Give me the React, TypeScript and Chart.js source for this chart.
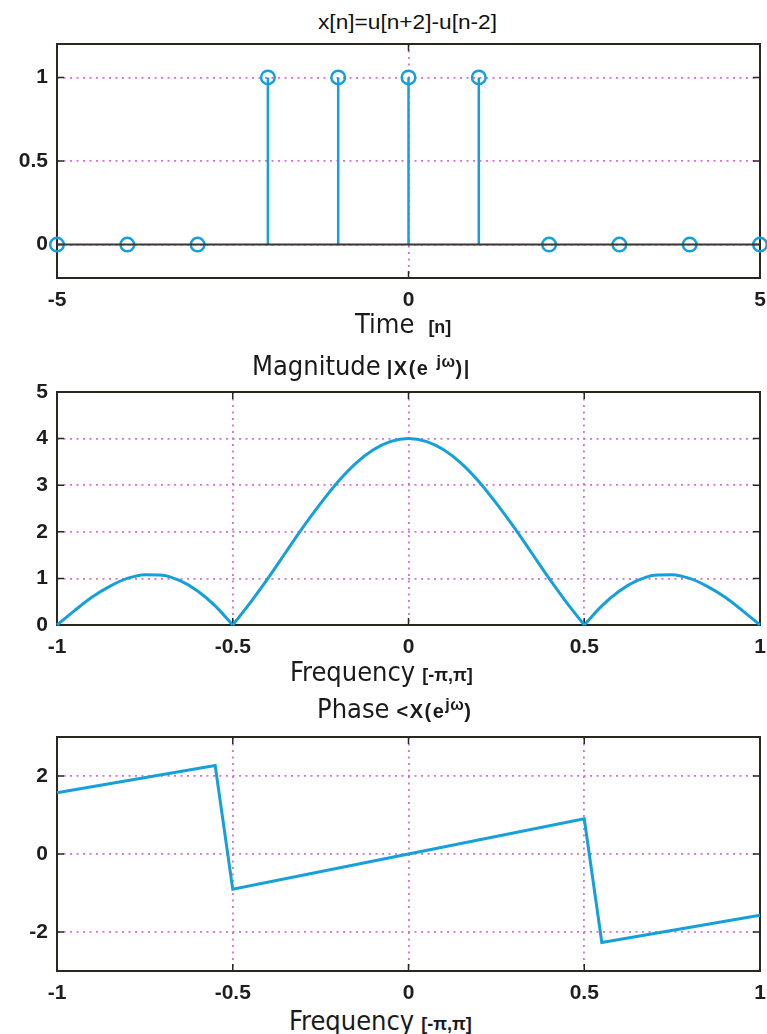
import React, { useEffect, useRef } from "react";
import { Chart, registerables } from "chart.js";

Chart.register(...registerables);

// ---------- data ----------
const stemN = [-5, -4, -3, -2, -1, 0, 1, 2, 3, 4, 5];
const stemValues = [0, 0, 0, 1, 1, 1, 1, 0, 0, 0, 0];
const stemXTicks = [-5, 0, 5];
const stemYTicks = [0, 0.5, 1];

const freqGrid = [
  -1, -0.95, -0.9, -0.85, -0.8, -0.75, -0.7, -0.65, -0.6, -0.55, -0.5,
  -0.45, -0.4, -0.35, -0.3, -0.25, -0.2, -0.15, -0.1, -0.05, 0,
  0.05, 0.1, 0.15, 0.2, 0.25, 0.3, 0.35, 0.4, 0.45, 0.5,
  0.55, 0.6, 0.65, 0.7, 0.75, 0.8, 0.85, 0.9, 0.95, 1,
];
const magValues = [
  0, 0.31, 0.6, 0.83, 1.0, 1.08, 1.07, 0.95, 0.73, 0.41, 0,
  0.48, 1.0, 1.55, 2.1, 2.61, 3.08, 3.47, 3.76, 3.94, 4.0,
  3.94, 3.76, 3.47, 3.08, 2.61, 2.1, 1.55, 1.0, 0.48, 0,
  0.41, 0.73, 0.95, 1.07, 1.08, 1.0, 0.83, 0.6, 0.31, 0,
];
// indices in freqGrid where the magnitude lobes meet (zeros)
const magLobeBreaks = [0, 10, 30, 40];
const freqTicks = [-1, -0.5, 0, 0.5, 1];
const magYTicks = [0, 1, 2, 3, 4, 5];

const phaseFreq = [-1, -0.55, -0.5, 0, 0.5, 0.55, 1];
const phaseValues = [1.57, 2.27, -0.9, 0, 0.9, -2.27, -1.57];
const phaseYTicks = [-2, 0, 2];

// ---------- styles ----------
const BLUE = "#159fdb";
const GRID = "rgba(208,96,208,0.9)";
const BORDER = "#2a2620";
const TICK_FONT = { family: '"Liberation Sans", Arial, sans-serif', weight: "bold" as const, size: 21 };
const LABEL_FONT = '"DejaVu Sans Condensed", "DejaVu Sans", sans-serif';
const SMALL_FONT = '"Liberation Sans", Arial, sans-serif';

const boxPlugin = {
  id: "matlabBox",
  beforeDatasetsDraw(chart: any) {
    const { ctx, chartArea: a, scales } = chart;
    ctx.save();
    ctx.strokeStyle = BORDER;
    ctx.lineWidth = 1.5;
    const L = 7;
    ctx.beginPath();
    scales.x.ticks.forEach((t: any) => {
      const px = scales.x.getPixelForValue(t.value);
      ctx.moveTo(px, a.bottom);
      ctx.lineTo(px, a.bottom - L);
      ctx.moveTo(px, a.top);
      ctx.lineTo(px, a.top + L);
    });
    scales.y.ticks.forEach((t: any) => {
      const py = scales.y.getPixelForValue(t.value);
      ctx.moveTo(a.left, py);
      ctx.lineTo(a.left + L, py);
      ctx.moveTo(a.right, py);
      ctx.lineTo(a.right - L, py);
    });
    ctx.stroke();
    ctx.lineWidth = 2;
    ctx.strokeRect(a.left, a.top, a.right - a.left, a.bottom - a.top);
    ctx.restore();
  },
};

function axis(min: number, max: number, ticks: number[], isX: boolean) {
  return {
    type: "linear" as const,
    min,
    max,
    afterBuildTicks: (ax: any) => {
      ax.ticks = ticks.map((v) => ({ value: v }));
    },
    afterFit: (ax: any) => {
      if (isX) {
        ax.height = 34;
        ax.paddingLeft = 0;
        ax.paddingRight = 0;
      } else {
        ax.width = 57;
        ax.paddingTop = 0;
        ax.paddingBottom = 0;
      }
    },
    grid: { color: GRID, lineWidth: 1.8, drawTicks: false },
    border: { display: false, dash: [2, 4.5] },
    ticks: {
      padding: isX ? 10 : 9,
      font: TICK_FONT,
      color: "#1e1e1e",
      autoSkip: false,
      maxRotation: 0,
      callback: (v: any) => String(v),
    },
  };
}

function baseOptions(padTop: number, xMin: number, xMax: number, xT: number[], yMin: number, yMax: number, yT: number[]) {
  return {
    animation: false as const,
    responsive: false,
    layout: { autoPadding: false, padding: { top: padTop, right: 7, left: 0, bottom: 0 } },
    plugins: { legend: { display: false }, tooltip: { enabled: false }, title: { display: false } },
    scales: { x: axis(xMin, xMax, xT, true), y: axis(yMin, yMax, yT, false) },
  };
}

function stemConfig() {
  const stems: any[] = [];
  stemN.forEach((n, i) => {
    stems.push({ x: n, y: 0 }, { x: n, y: stemValues[i] }, { x: n, y: null });
  });
  return {
    type: "scatter" as const,
    data: {
      datasets: [
        {
          data: [{ x: stemN[0], y: 0 }, { x: stemN[stemN.length - 1], y: 0 }],
          showLine: true,
          borderColor: "#3a3630",
          borderWidth: 2,
          pointRadius: 0,
        },
        {
          data: stems,
          showLine: true,
          spanGaps: false,
          borderColor: BLUE,
          borderWidth: 2.5,
          pointRadius: 0,
        },
        {
          data: stemN.map((n, i) => ({ x: n, y: stemValues[i] })),
          showLine: false,
          pointRadius: 6.8,
          pointBorderWidth: 2.5,
          pointBorderColor: BLUE,
          pointBackgroundColor: "rgba(0,0,0,0)",
          clip: false,
        },
      ],
    },
    options: baseOptions(4, -5, 5, stemXTicks, -0.2, 1.2, stemYTicks),
    plugins: [boxPlugin],
  };
}

function magConfig() {
  const datasets: any[] = [];
  for (let k = 0; k < magLobeBreaks.length - 1; k++) {
    const s = magLobeBreaks[k];
    const e = magLobeBreaks[k + 1];
    datasets.push({
      data: freqGrid.slice(s, e + 1).map((x, i) => ({ x, y: magValues[s + i] })),
      showLine: true,
      cubicInterpolationMode: "monotone",
      borderColor: BLUE,
      borderWidth: 3,
      pointRadius: 0,
      clip: 4,
    });
  }
  return {
    type: "scatter" as const,
    data: { datasets },
    options: baseOptions(14, -1, 1, freqTicks, 0, 5, magYTicks),
    plugins: [boxPlugin],
  };
}

function phaseConfig() {
  return {
    type: "scatter" as const,
    data: {
      datasets: [
        {
          data: phaseFreq.map((x, i) => ({ x, y: phaseValues[i] })),
          showLine: true,
          borderColor: BLUE,
          borderWidth: 3,
          pointRadius: 0,
          clip: 4,
        },
      ],
    },
    options: baseOptions(4, -1, 1, freqTicks, -3, 3, phaseYTicks),
    plugins: [boxPlugin],
  };
}

function ChartCanvas({ top, height, build }: { top: number; height: number; build: () => any }) {
  const ref = useRef<HTMLCanvasElement>(null);
  useEffect(() => {
    const chart = new Chart(ref.current as HTMLCanvasElement, build());
    return () => chart.destroy();
  }, []);
  return (
    <canvas
      ref={ref}
      width={767}
      height={height}
      style={{ position: "absolute", left: 0, top, width: 767, height }}
    />
  );
}

const big: React.CSSProperties = { fontFamily: LABEL_FONT, fontSize: 27, color: "#1a1a1a" };
const small: React.CSSProperties = { fontFamily: SMALL_FONT, fontSize: 18, fontWeight: "bold", color: "#1a1a1a" };
const smallWide: React.CSSProperties = { fontFamily: SMALL_FONT, fontSize: 20, fontWeight: "bold", color: "#1a1a1a", letterSpacing: 1.5 };
const sup: React.CSSProperties = { fontSize: 16, verticalAlign: 8, fontWeight: "bold", letterSpacing: 0.5 };

function Label({ left, top, children }: { left: number; top: number; children: React.ReactNode }) {
  return (
    <div style={{ position: "absolute", left, top, whiteSpace: "nowrap", lineHeight: 1 }}>{children}</div>
  );
}

export default function App() {
  return (
    <div style={{ position: "absolute", left: 0, top: 0, width: 767, height: 1034, overflow: "hidden", background: "#fff" }}>
      <Label left={318} top={11}>
        <span style={{ fontFamily: SMALL_FONT, fontSize: 21, color: "#111", display: "inline-block", transform: "scaleX(1.08)", transformOrigin: "left" }}>
          x[n]=u[n+2]-u[n-2]
        </span>
      </Label>
      <ChartCanvas top={40} height={272} build={stemConfig} />
      <Label left={355} top={310}>
        <span style={big}>Time</span>
        <span style={{ ...small, marginLeft: 14 }}>[n]</span>
      </Label>
      <Label left={252} top={352}>
        <span style={big}>Magnitude</span>
        <span style={{ ...smallWide, marginLeft: 6 }}>
          |X(e <span style={sup}>jω</span>)|
        </span>
      </Label>
      <ChartCanvas top={378} height={281} build={magConfig} />
      <Label left={290} top={658}>
        <span style={big}>Frequency</span>
        <span style={{ ...small, marginLeft: 7 }}>[-π,π]</span>
      </Label>
      <Label left={317} top={695}>
        <span style={big}>Phase</span>
        <span style={{ ...smallWide, marginLeft: 7 }}>
          &lt;X(e<span style={sup}>jω</span>)
        </span>
      </Label>
      <ChartCanvas top={733} height={272} build={phaseConfig} />
      <Label left={289} top={1007}>
        <span style={big}>Frequency</span>
        <span style={{ ...small, marginLeft: 7 }}>[-π,π]</span>
      </Label>
    </div>
  );
}
